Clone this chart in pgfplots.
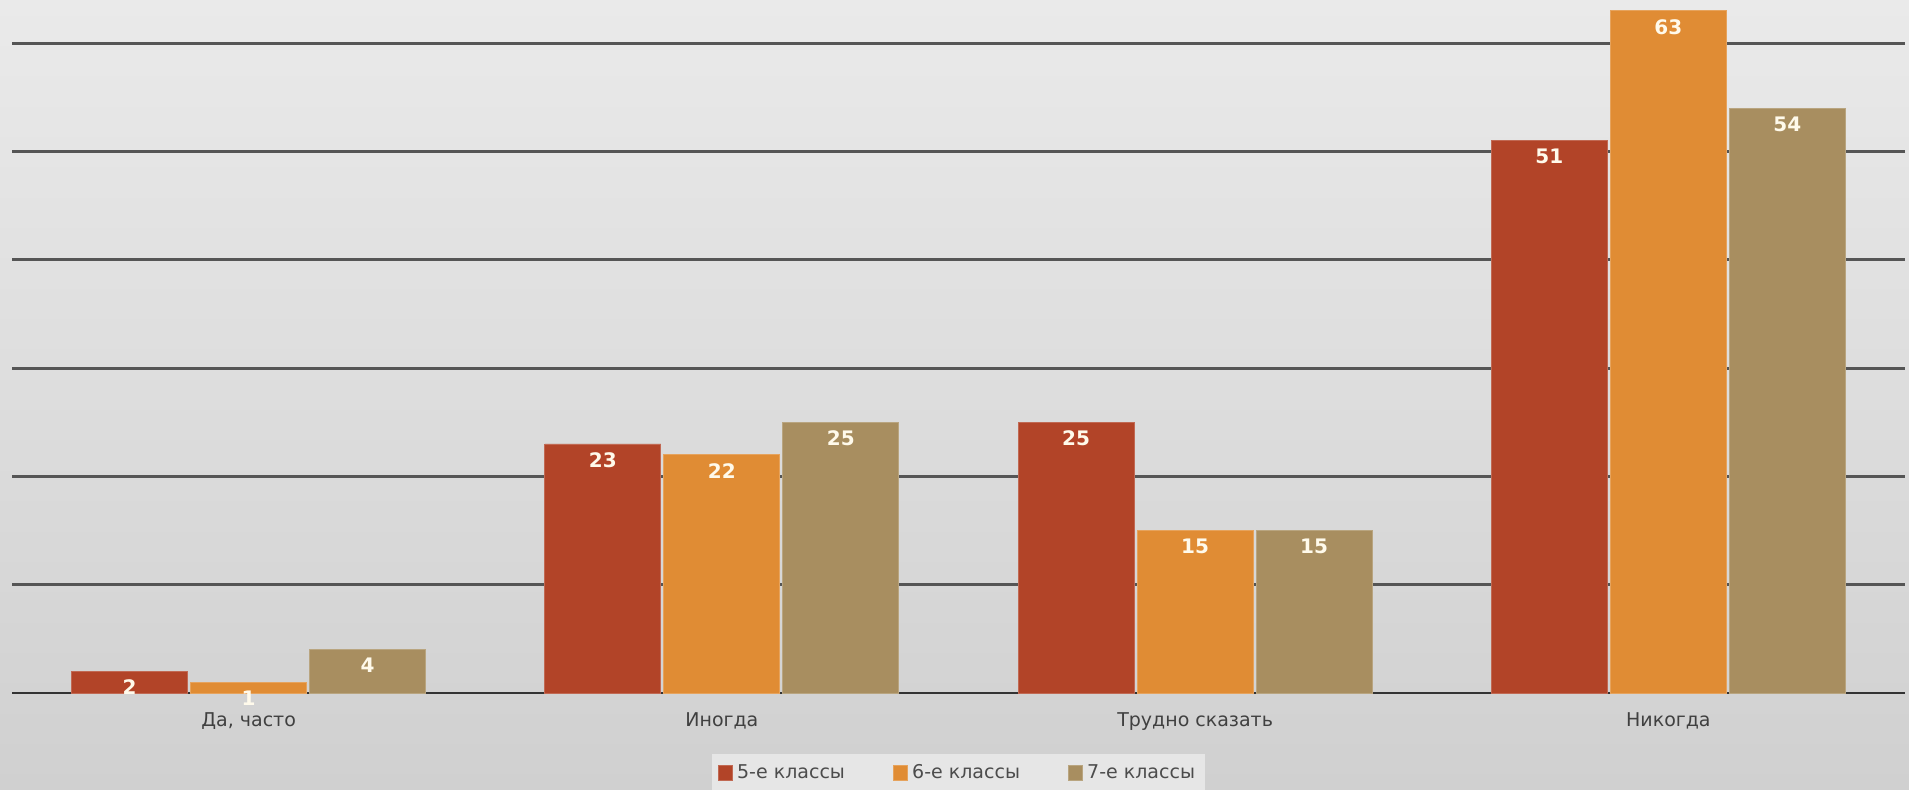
\documentclass[border=0pt]{standalone}
\usepackage{pgfplots}
\pgfplotsset{compat=1.18}
\usepackage{fontspec}
\setmainfont{DejaVu Sans}
\definecolor{cA}{RGB}{178,68,40}
\definecolor{cB}{RGB}{224,140,52}
\definecolor{cC}{RGB}{168,142,96}
\definecolor{gridc}{RGB}{85,85,85}
\begin{document}
\begin{tikzpicture}
\shade[top color={rgb,255:red,234;green,234;blue,234}, bottom color={rgb,255:red,208;green,208;blue,208}] (-6pt,-48pt) rectangle (948.5pt,346.5pt);
\begin{axis}[
  at={(0pt,0pt)}, anchor=south west,
  scale only axis, width=946.5pt, height=346.5pt,
  ybar=1.5pt, bar width=58pt,
  xmin=-0.5, xmax=3.5, ymin=0, ymax=64,
  xtick=data, xticklabels={{Да, часто}, Иногда, {Трудно сказать}, Никогда},
  ytick={10,20,30,40,50,60}, yticklabels={},
  ymajorgrids, grid style={gridc, line width=1.4pt},
  major tick length=0pt,
  axis x line*=bottom, axis y line*=left,
  y axis line style={draw=none},
  x axis line style={black!80, line width=1.4pt, -},
  tick label style={font=\fontsize{9.5}{11}\selectfont, text=black!75},
  xticklabel style={yshift=-6.5pt},
  /pgf/number format/assume math mode=true,
  nodes near coords,
  every node near coord/.append style={anchor=center, yshift=-8pt, text={rgb,255:red,255;green,250;blue,235}, font=\fontsize{10}{12}\selectfont\bfseries},
  legend style={at={(0.5,-48pt+8pt)}, anchor=center, legend columns=3, draw=none, fill={rgb,255:red,230;green,230;blue,230}, font=\fontsize{9.5}{11}\selectfont, text=black!70, /tikz/every even column/.append style={column sep=22pt}, inner sep=3pt},
  legend image code/.code={\fill[#1] (0pt,-3.6pt) rectangle (7.2pt,3.6pt);},
]
\addplot[fill=cA, draw=cA!80!white] coordinates {(0,2) (1,23) (2,25) (3,51)};
\addplot[fill=cB, draw=cB!80!white] coordinates {(0,1) (1,22) (2,15) (3,63)};
\addplot[fill=cC, draw=cC!80!white] coordinates {(0,4) (1,25) (2,15) (3,54)};
\legend{5-е классы, 6-е классы, 7-е классы}
\end{axis}
\pgfresetboundingbox
\useasboundingbox (-6pt,-48pt) rectangle (948.5pt,346.5pt);
\end{tikzpicture}
\end{document}
